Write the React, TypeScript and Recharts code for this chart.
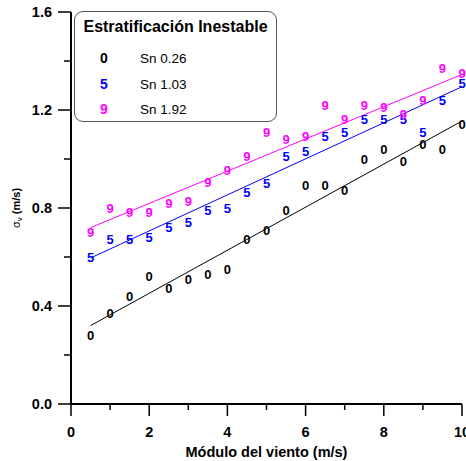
import React from "react"
import { ScatterChart, Scatter, XAxis, YAxis } from "recharts"

// wind speed (m/s) at which each sigma_v was measured
const windSpeed = [0.5, 1, 1.5, 2, 2.5, 3, 3.5, 4, 4.5, 5, 5.5, 6, 6.5, 7, 7.5, 8, 8.5, 9, 9.5, 10]

const sn026 = [0.28, 0.37, 0.44, 0.52, 0.47, 0.51, 0.53, 0.55, 0.67, 0.71, 0.79, 0.89, 0.89, 0.87, 1.0, 1.04, 0.99, 1.06, 1.04, 1.14]
const sn103 = [0.6, 0.67, 0.67, 0.68, 0.72, 0.74, 0.79, 0.8, 0.865, 0.9, 1.01, 1.03, 1.09, 1.11, 1.16, 1.16, 1.16, 1.11, 1.24, 1.31]
const sn192 = [0.7, 0.8, 0.78, 0.78, 0.82, 0.825, 0.906, 0.955, 1.01, 1.11, 1.08, 1.09, 1.22, 1.16, 1.22, 1.21, 1.18, 1.24, 1.37, 1.35]

// fitted lines, endpoints
const fitX = [0.5, 10]
const fit026 = [0.32, 1.155]
const fit103 = [0.596, 1.295]
const fit192 = [0.72, 1.345]

const xTicks = [0, 1, 2, 3, 4, 5, 6, 7, 8, 9, 10]
const yTicks = [0, 0.2, 0.4, 0.6, 0.8, 1.0, 1.2, 1.4, 1.6]

const series = [
  { name: "Sn 0.26", symbol: "0", color: "#000000", values: sn026, fit: fit026 },
  { name: "Sn 1.03", symbol: "5", color: "#0000ff", values: sn103, fit: fit103 },
  { name: "Sn 1.92", symbol: "9", color: "#ff00ff", values: sn192, fit: fit192 },
]

const FONT = "Arial, 'Liberation Sans', sans-serif"

const toPoints = (xs: number[], ys: number[]) => xs.map((x, i) => ({ x, y: ys[i] }))

const YTick = (props: any) => {
  const { x, y, payload } = props
  const v = payload.value
  const major = Math.abs(v / 0.4 - Math.round(v / 0.4)) < 1e-6
  return (
    <g>
      <line x1={x - (major ? 13 : 7)} x2={x} y1={y} y2={y} stroke="#000" strokeWidth={1.5} />
      {major && (
        <text x={x - 19} y={y} textAnchor="end" dominantBaseline="central" fontFamily={FONT} fontWeight="bold" fontSize={14.5} fill="#000">
          {v.toFixed(1)}
        </text>
      )}
    </g>
  )
}

const XTick = (props: any) => {
  const { x, y, payload } = props
  const v = payload.value
  const major = v % 2 === 0
  return (
    <g>
      <line x1={x} x2={x} y1={y} y2={y + (major ? 12 : 6)} stroke="#000" strokeWidth={1.5} />
      {major && (
        <text x={x} y={y + 28} textAnchor="middle" dominantBaseline="central" fontFamily={FONT} fontWeight="bold" fontSize={14.5} fill="#000">
          {v}
        </text>
      )}
    </g>
  )
}

const symbolShape = (symbol: string, color: string) => (p: any) => (
  <text x={p.cx} y={p.cy} textAnchor="middle" dominantBaseline="central" fontFamily={FONT} fontWeight="bold" fontSize={13} fill={color}>
    {symbol}
  </text>
)

export default function App() {
  return (
    <div style={{ position: "absolute", left: 0, top: 0, width: 466, height: 461, background: "#fff" }}>
      <ScatterChart width={466} height={461} margin={{ top: 12, right: 4, left: 0, bottom: 0 }}>
        <XAxis
          type="number"
          dataKey="x"
          domain={[0, 10]}
          ticks={xTicks}
          tick={<XTick />}
          tickSize={0}
          tickMargin={0}
          tickLine={false}
          axisLine={{ stroke: "#000", strokeWidth: 2 }}
          height={57}
          interval={0}
          label={{
            value: "Módulo del viento (m/s)",
            position: "insideBottom",
            offset: 4,
            style: { fontFamily: FONT, fontWeight: "bold", fontSize: 14.5, fill: "#000" },
          }}
        />
        <YAxis
          type="number"
          dataKey="y"
          domain={[0, 1.6]}
          ticks={yTicks}
          tick={<YTick />}
          tickSize={0}
          tickMargin={0}
          tickLine={false}
          axisLine={{ stroke: "#000", strokeWidth: 2 }}
          width={71}
          interval={0}
          label={{
            content: () => (
              <text transform="rotate(-90, 16, 208)" x={16} y={208} textAnchor="middle" dominantBaseline="central" fontFamily={FONT} fontSize={11} fill="#000">
                <tspan>σ</tspan>
                <tspan dy={3} fontSize={8}>v</tspan>
                <tspan dy={-3} fontWeight="bold"> (m/s)</tspan>
              </text>
            ),
          }}
        />
        {series.map((s) => (
          <Scatter
            key={s.name + "-fit"}
            data={toPoints(fitX, s.fit)}
            line={{ stroke: s.color, strokeWidth: 1 }}
            shape={() => <g />}
            isAnimationActive={false}
          />
        ))}
        {series.map((s) => (
          <Scatter
            key={s.name}
            name={s.name}
            data={toPoints(windSpeed, s.values)}
            shape={symbolShape(s.symbol, s.color)}
            isAnimationActive={false}
          />
        ))}
      </ScatterChart>
      <div
        style={{
          position: "absolute",
          left: 74,
          top: 11,
          width: 201,
          height: 109,
          border: "1px solid #555",
          borderRadius: 9,
          background: "#fff",
          fontFamily: FONT,
        }}
      >
        <div style={{ position: "absolute", left: 0, right: 0, top: 6, textAlign: "center", fontWeight: "bold", fontSize: 16 }}>
          Estratificación Inestable
        </div>
        {series.map((s, i) => (
          <div key={s.name} style={{ position: "absolute", top: 38 + i * 25.5, left: 0, height: 16, width: "100%" }}>
            <span style={{ position: "absolute", left: 24, width: 10, textAlign: "center", fontWeight: "bold", fontSize: 14, color: s.color }}>
              {s.symbol}
            </span>
            <span style={{ position: "absolute", left: 65, top: 1, fontSize: 13.5 }}>{s.name}</span>
          </div>
        ))}
      </div>
    </div>
  )
}
